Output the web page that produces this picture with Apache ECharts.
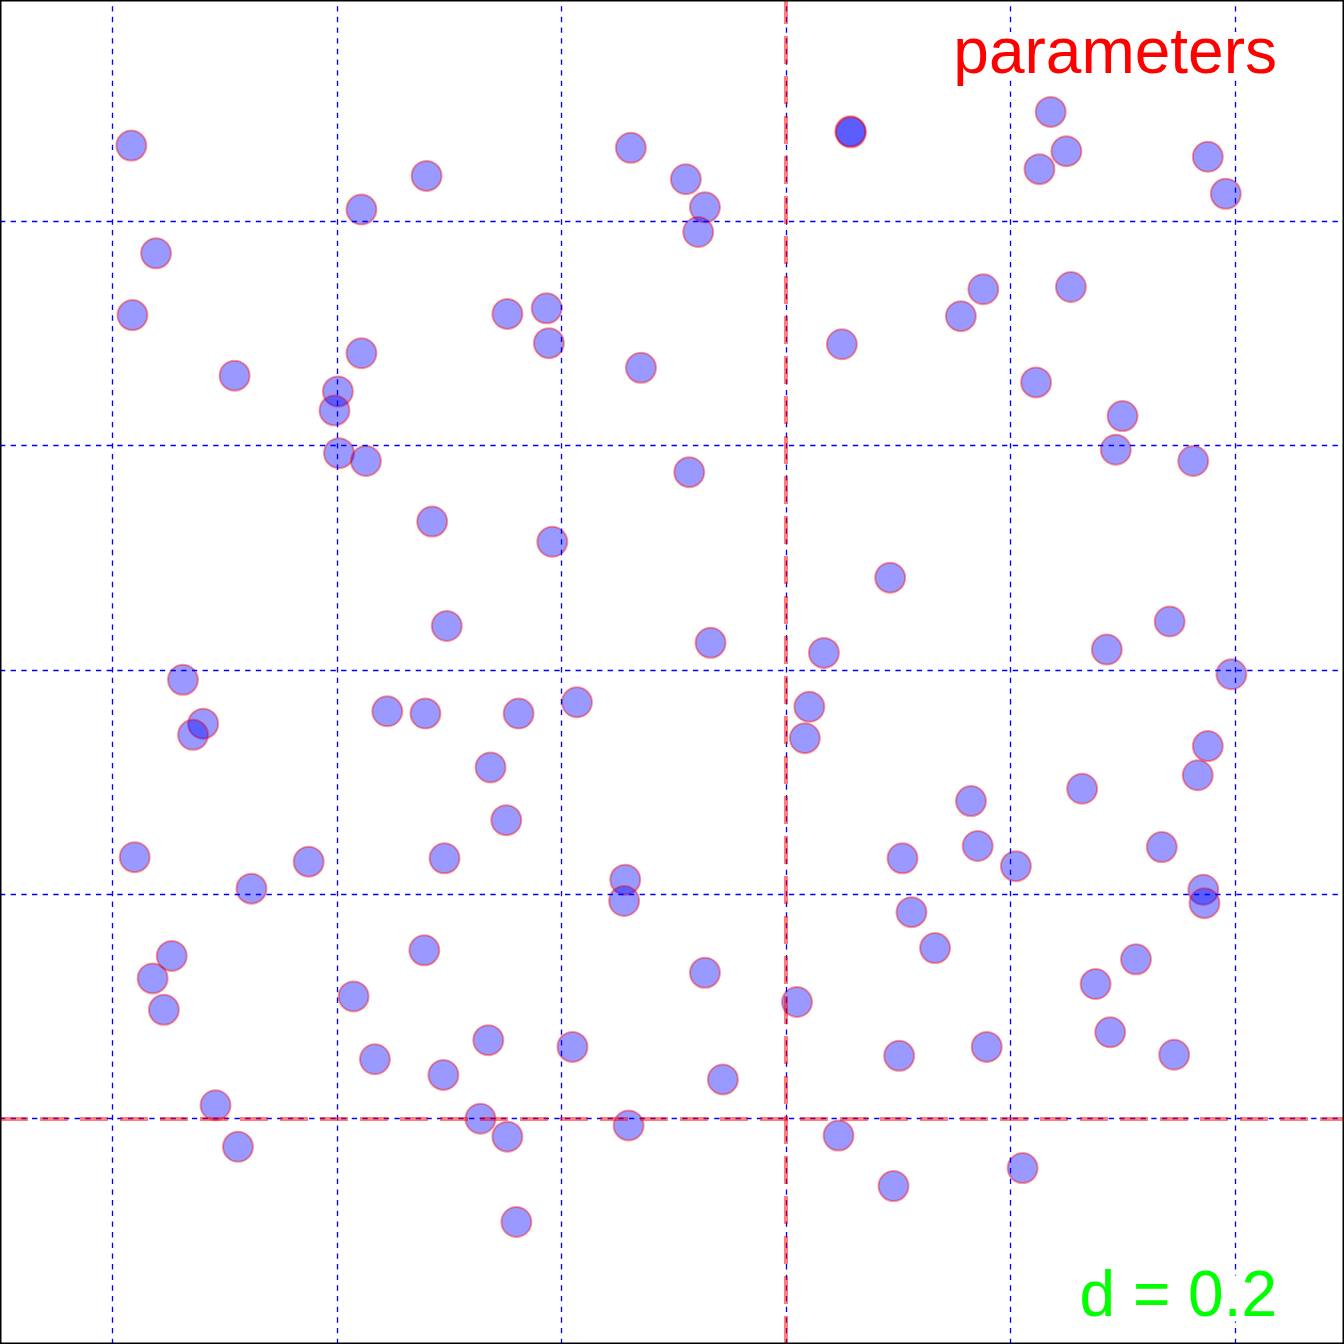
<!DOCTYPE html>
<html>
<head>
<meta charset="utf-8">
<style>
  html, body { margin: 0; padding: 0; background: #fff; }
  #chart { width: 1344px; height: 1344px; }
</style>
<script src="https://cdn.jsdelivr.net/npm/echarts@6/dist/echarts.min.js"></script>
</head>
<body>
<div id="chart"></div>
<script>
// ---- data ----
const xValues = [
  0.017, 0.039, 0.018, 0.109, 0.222, 0.280, 0.222, 0.201, 0.198, 0.202,
  0.226, 0.352, 0.387, 0.389, 0.462, 0.511, 0.528, 0.522, 0.471, 0.6575,
  0.6581, 0.650, 0.836, 0.850, 0.826, 0.976, 0.992, 0.776, 0.756, 0.854,
  0.823, 0.900, 0.894, 0.963, 0.514, 0.285, 0.392, 0.693, 0.942, 0.298,
  0.533, 0.634, 0.886, 0.997, 0.063, 0.081, 0.072, 0.245, 0.279, 0.362,
  0.414, 0.621, 0.617, 0.976, 0.967, 0.337, 0.864, 0.765, 0.351, 0.771,
  0.935, 0.805, 0.020, 0.175, 0.296, 0.704, 0.124, 0.457, 0.456, 0.972,
  0.973, 0.053, 0.036, 0.046, 0.278, 0.215, 0.234, 0.295, 0.092, 0.112,
  0.528, 0.610, 0.335, 0.410, 0.544, 0.328, 0.352, 0.460, 0.647, 0.360,
  0.712, 0.733, 0.701, 0.779, 0.876, 0.912, 0.889, 0.946, 0.811, 0.696
];
const yValues = [
  0.967, 0.871, 0.816, 0.762, 0.910, 0.940, 0.782, 0.748, 0.731, 0.693,
  0.686, 0.817, 0.822, 0.791, 0.965, 0.937, 0.912, 0.890, 0.769, 0.9797,
  0.9788, 0.790, 0.997, 0.962, 0.946, 0.957, 0.924, 0.839, 0.815, 0.841,
  0.756, 0.726, 0.696, 0.686, 0.676, 0.632, 0.614, 0.582, 0.543, 0.539,
  0.524, 0.515, 0.518, 0.496, 0.491, 0.452, 0.442, 0.463, 0.461, 0.461,
  0.471, 0.467, 0.439, 0.432, 0.406, 0.413, 0.394, 0.383, 0.366, 0.343,
  0.342, 0.325, 0.333, 0.329, 0.332, 0.332, 0.305, 0.313, 0.294, 0.304,
  0.292, 0.245, 0.225, 0.197, 0.250, 0.209, 0.153, 0.139, 0.112, 0.075,
  0.230, 0.204, 0.170, 0.164, 0.135, 0.100, 0.084, 0.094, 0.085, 0.008,
  0.284, 0.252, 0.156, 0.164, 0.220, 0.242, 0.177, 0.157, 0.056, 0.040
];
const gridXValues = [0, 0.2, 0.4, 0.6, 0.8, 1.0];
const gridYValues = [0.1, 0.3, 0.5, 0.7, 0.9];
const refXValues = [0.6];
const refYValues = [0.1];
const xRange = [-0.1, 1.0973];
const yRange = [-0.1007, 1.0967];
const titleText = 'parameters';
const noteText = 'd = 0.2';

const points = xValues.map((x, i) => [x, yValues[i]]);

const chart = echarts.init(document.getElementById('chart'), null, { renderer: 'canvas' });

const hiddenAxis = (range) => ({
  type: 'value', min: range[0], max: range[1],
  axisLine: { show: false }, axisTick: { show: false },
  axisLabel: { show: false }, splitLine: { show: false }
});

const lineFont = '"Liberation Sans", Arial, sans-serif';

chart.setOption({
  animation: false,
  backgroundColor: '#ffffff',
  grid: { left: 0, top: 0, right: 0, bottom: 0 },
  xAxis: hiddenAxis(xRange),
  yAxis: hiddenAxis(yRange),
  series: [
    {
      type: 'scatter',
      data: [],
      z: 1,
      markLine: {
        silent: true,
        symbol: 'none',
        animation: false,
        label: { show: false },
        lineStyle: { color: '#0000ff', width: 1.33, type: [5.33, 5.33], opacity: 1 },
        data: gridXValues.map(v => ({ xAxis: v })).concat(gridYValues.map(v => ({ yAxis: v })))
      }
    },
    {
      type: 'scatter',
      data: points,
      z: 2,
      symbol: 'circle',
      symbolSize: 30,
      itemStyle: {
        color: 'rgba(0,0,255,0.4)',
        borderColor: 'rgba(255,0,0,0.4)',
        borderWidth: 2,
        opacity: 1
      },
      emphasis: { disabled: true }
    },
    {
      type: 'scatter',
      data: [],
      z: 3,
      markLine: {
        silent: true,
        symbol: 'none',
        animation: false,
        label: { show: false },
        lineStyle: { color: 'rgba(255,0,0,0.5)', width: 4, type: [28, 12], opacity: 1 },
        data: refXValues.map(v => ({ xAxis: v })).concat(refYValues.map(v => ({ yAxis: v })))
      }
    }
  ],
  graphic: [
    {
      type: 'rect',
      z: 200,
      silent: true,
      shape: { x: 0.75, y: 0.75, width: 1342.5, height: 1342.5 },
      style: { fill: 'none', stroke: '#000', lineWidth: 1.5 }
    },
    {
      type: 'text',
      z: 150,
      silent: true,
      x: 1277,
      y: 55,
      style: {
        text: titleText,
        fill: '#ff0000',
        font: '64px ' + lineFont,
        align: 'right',
        verticalAlign: 'middle',
        lineHeight: 46,
        backgroundColor: '#ffffff'
      }
    },
    {
      type: 'text',
      z: 150,
      silent: true,
      x: 1277,
      y: 1298.5,
      style: {
        text: noteText,
        fill: '#00ff00',
        font: '64px ' + lineFont,
        align: 'right',
        verticalAlign: 'middle',
        lineHeight: 46,
        backgroundColor: '#ffffff'
      }
    }
  ]
});
</script>
</body>
</html>
